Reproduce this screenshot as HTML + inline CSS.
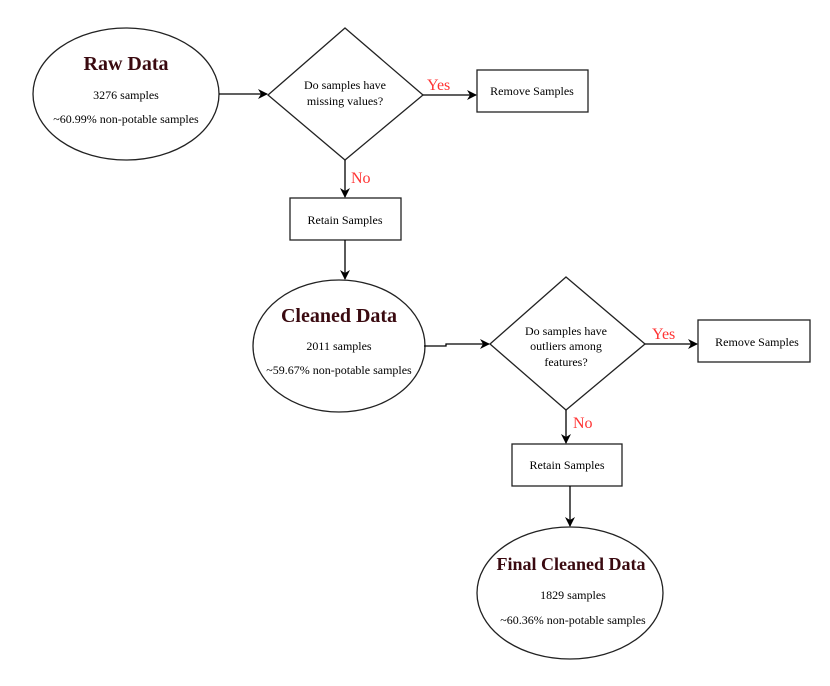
<!DOCTYPE html>
<html><head><style>body{margin:0;background:#fff}</style></head><body>
<svg width="830" height="681" viewBox="0 0 830 681" xmlns="http://www.w3.org/2000/svg" font-family="Liberation Serif, serif">
<defs><marker id="a" markerWidth="10" markerHeight="10" refX="9" refY="5" orient="auto" markerUnits="userSpaceOnUse"><path d="M0,0 L10,5 L0,10 L3,5 z" fill="#000"/></marker></defs>
<g fill="none" stroke="#222" stroke-width="1.3">
<ellipse cx="126" cy="94" rx="93" ry="66"/>
<polygon points="345,28 423,95 345,160 268,95"/>
<rect x="477" y="70" width="111" height="42"/>
<rect x="290" y="198" width="111" height="42"/>
<ellipse cx="339" cy="346" rx="86" ry="66"/>
<polygon points="566,277 645,344 566,410 490,344"/>
<rect x="698" y="320" width="112" height="42"/>
<rect x="512" y="444" width="110" height="42"/>
<ellipse cx="570" cy="593" rx="93" ry="66"/>
</g>
<g stroke="#000" stroke-width="1.3" fill="none" marker-end="url(#a)">
<path d="M219,94 H267"/>
<path d="M423,95 H476"/>
<path d="M345,160 V197"/>
<path d="M345,240 V279"/>
<path d="M424,346 H446 V344 H489"/>
<path d="M645,344 H697"/>
<path d="M566,410 V443"/>
<path d="M570,486 V526"/>
</g>
<g text-anchor="middle" fill="#000">
<text x="126" y="70" font-size="20" font-weight="bold" fill="#3a0a10">Raw Data</text>
<text x="126" y="99" font-size="12">3276 samples</text>
<text x="126" y="123" font-size="12">~60.99% non-potable samples</text>
<text x="345" y="89" font-size="12">Do samples have</text>
<text x="345" y="105" font-size="12">missing values?</text>
<text x="532" y="95" font-size="12">Remove Samples</text>
<text x="345" y="224" font-size="12">Retain Samples</text>
<text x="339" y="322" font-size="20" font-weight="bold" fill="#3a0a10">Cleaned Data</text>
<text x="339" y="350" font-size="12">2011 samples</text>
<text x="339" y="374" font-size="12">~59.67% non-potable samples</text>
<text x="566" y="335" font-size="12">Do samples have</text>
<text x="566" y="350" font-size="12">outliers among</text>
<text x="566" y="366" font-size="12">features?</text>
<text x="757" y="346" font-size="12">Remove Samples</text>
<text x="567" y="469" font-size="12">Retain Samples</text>
<text x="571" y="570" font-size="18" font-weight="bold" fill="#3a0a10">Final Cleaned Data</text>
<text x="573" y="599" font-size="12">1829 samples</text>
<text x="573" y="624" font-size="12">~60.36% non-potable samples</text>
</g>
<g fill="#ff3333" font-size="16">
<text x="427" y="90">Yes</text>
<text x="351" y="183">No</text>
<text x="652" y="339">Yes</text>
<text x="573" y="428">No</text>
</g>
</svg>
</body></html>
